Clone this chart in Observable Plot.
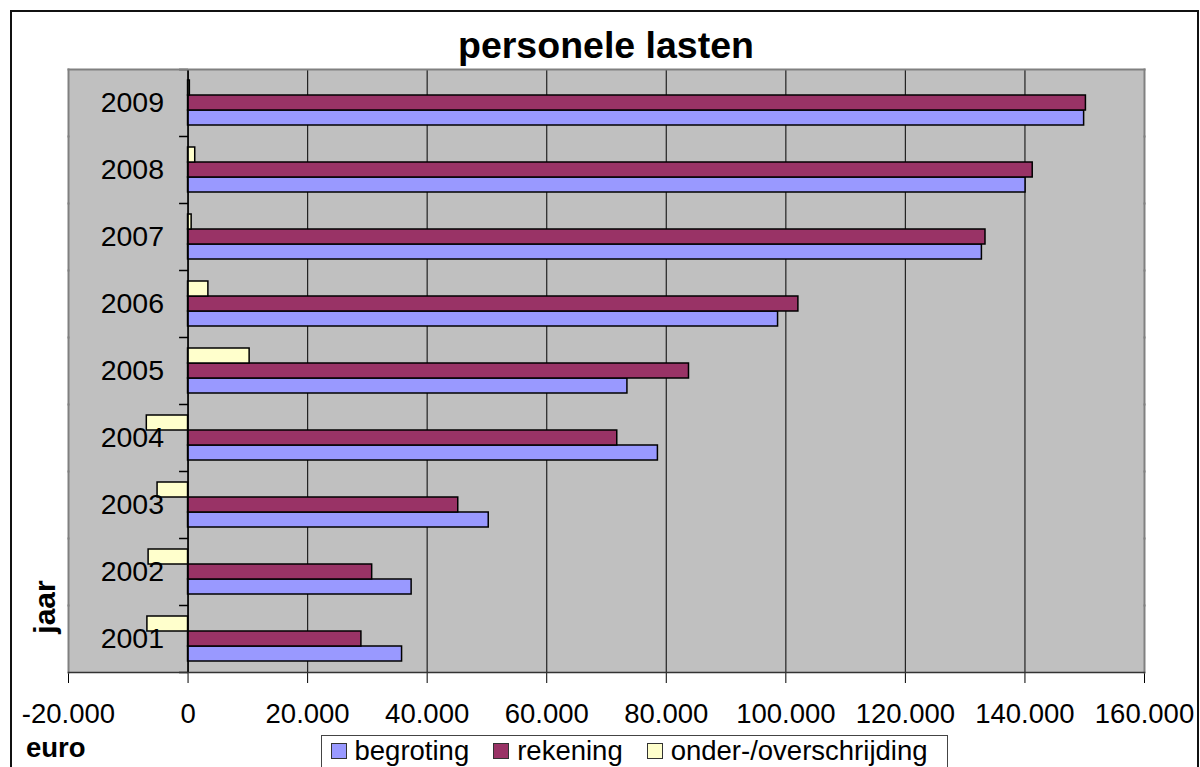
<!DOCTYPE html>
<html>
<head>
<meta charset="utf-8">
<script src="https://cdn.jsdelivr.net/npm/d3@7"></script>
<script src="https://cdn.jsdelivr.net/npm/@observablehq/plot@0.6"></script>
<style>
  html, body { margin: 0; padding: 0; background: #fff; }
  #chart { position: relative; width: 1200px; height: 767px; overflow: hidden;
           font-family: "Liberation Sans", Arial, sans-serif; color: #000; }
  #border { position: absolute; left: 10px; top: 10px; width: 1189px; height: 820px;
            border: 2px solid #111; box-sizing: border-box; }
  #title { position: absolute; left: 68px; width: 1076px; top: 27px; text-align: center;
           font-weight: bold; font-size: 37.5px; line-height: 1; }
  #plot { position: absolute; left: 0; top: 62px; }
  #jaar { position: absolute; left: 45px; top: 607px; transform: translate(-50%, -50%) rotate(-90deg);
          font-weight: bold; font-size: 30px; line-height: 1; white-space: nowrap; }
  #euro { position: absolute; left: 26px; top: 734px; font-weight: bold; font-size: 27.5px; line-height: 1; }
  #legend { position: absolute; left: 321px; top: 735px; width: 627px; height: 60px;
            border: 1.5px solid #444; box-sizing: border-box; background: #fff;
            display: flex; align-items: flex-start; padding-left: 8.5px; padding-top: 0.5px;
            font-size: 27.5px; line-height: 1; }
  .item { display: flex; align-items: flex-start; margin-right: 24px; white-space: nowrap; }
  .sw { width: 16px; height: 16px; box-sizing: border-box; border: 1.5px solid #333;
        margin-top: 6px; margin-right: 8px; }
</style>
</head>
<body>
<div id="chart">
  <div id="border"></div>
  <div id="title">personele lasten</div>
  <div id="plot"></div>
  <div id="jaar">jaar</div>
  <div id="euro">euro</div>
  <div id="legend"></div>
</div>
<script>
// ---- data ----
const years = [2001, 2002, 2003, 2004, 2005, 2006, 2007, 2008, 2009];
const begroting = [35800, 37400, 50300, 78600, 73500, 98700, 132800, 140100, 149900];
const rekening  = [29000, 30800, 45200, 71800, 83800, 102100, 133400, 141300, 150200];
const onderOverschrijding = [-6800, -6600, -5100, -6900, 10300, 3400, 600, 1200, 300];
const seriesNames = ["begroting", "rekening", "onder-/overschrijding"];
const seriesColors = ["#9999ff", "#993366", "#ffffcc"];
const xTicks = [-20000, 0, 20000, 40000, 60000, 80000, 100000, 120000, 140000, 160000];

const seriesValues = [begroting, rekening, onderOverschrijding];
const rows = years.flatMap((yr, i) =>
  seriesNames.map((s, k) => ({year: yr, serie: s, value: seriesValues[k][i]})));

const locale = d3.formatLocale({decimal: ",", thousands: ".", grouping: [3], currency: ["€", ""], minus: "-"});
const fmt = locale.format(",");

// small horizontal tick glyph for category boundaries on the value axis
const tickSymbol = { draw(ctx) { ctx.moveTo(-9, 0); ctx.lineTo(0, 0); } };

const plot = Plot.plot({
  width: 1200,
  height: 680,
  marginTop: 7,
  marginBottom: 70,
  marginLeft: 68,
  marginRight: 56,
  style: {fontFamily: "'Liberation Sans', Arial, sans-serif", fontSize: "27.5px", color: "#000", background: "transparent", overflow: "visible"},
  x: {domain: [-20000, 160000], ticks: xTicks, tickFormat: fmt, tickSize: 11, tickPadding: 20, label: null},
  y: {domain: ["onder-/overschrijding", "rekening", "begroting"], paddingInner: 0, paddingOuter: 0.66, axis: null},
  fy: {domain: years.slice().reverse(), padding: 0, axis: null},
  color: {domain: seriesNames, range: seriesColors},
  marks: [
    Plot.frame({fill: "#c0c0c0", stroke: "none", shapeRendering: "crispEdges"}),
    Plot.ruleX(xTicks.filter(v => v > -20000 && v < 160000), {stroke: "#222", strokeWidth: 1.2}),
    Plot.barX(rows, {fy: "year", y: "serie", x: "value", fill: "serie", stroke: "#000", strokeWidth: 1.5}),
    Plot.ruleX([0], {stroke: "#000", strokeWidth: 1.5}),
    Plot.text(years, {fy: d => d, x: () => 0, text: d => String(d), textAnchor: "end", dx: -24, fontSize: 28.5, fill: "#000"}),
    Plot.dot(years, {fy: d => d, x: () => 0, frameAnchor: "top", symbol: tickSymbol, r: 3, stroke: "#000", strokeWidth: 1.5, fill: "none"}),
    Plot.dot([years[0]], {fy: d => d, x: () => 0, frameAnchor: "bottom", symbol: tickSymbol, r: 3, stroke: "#000", strokeWidth: 1.5, fill: "none"}),
    Plot.frame({anchor: "left", stroke: "#808080", strokeWidth: 2}),
    Plot.frame({anchor: "right", stroke: "#808080", strokeWidth: 2}),
    Plot.frame({anchor: "top", facetAnchor: "top", stroke: "#808080", strokeWidth: 2}),
    Plot.frame({anchor: "bottom", facetAnchor: "bottom", stroke: "#333", strokeWidth: 1.5})
  ]
});
document.getElementById("plot").appendChild(plot);

// ---- legend ----
const legend = document.getElementById("legend");
seriesNames.forEach((name, k) => {
  const item = document.createElement("div");
  item.className = "item";
  const sw = document.createElement("div");
  sw.className = "sw";
  sw.style.background = seriesColors[k];
  const label = document.createElement("span");
  label.textContent = name;
  item.appendChild(sw);
  item.appendChild(label);
  legend.appendChild(item);
});
</script>
</body>
</html>
